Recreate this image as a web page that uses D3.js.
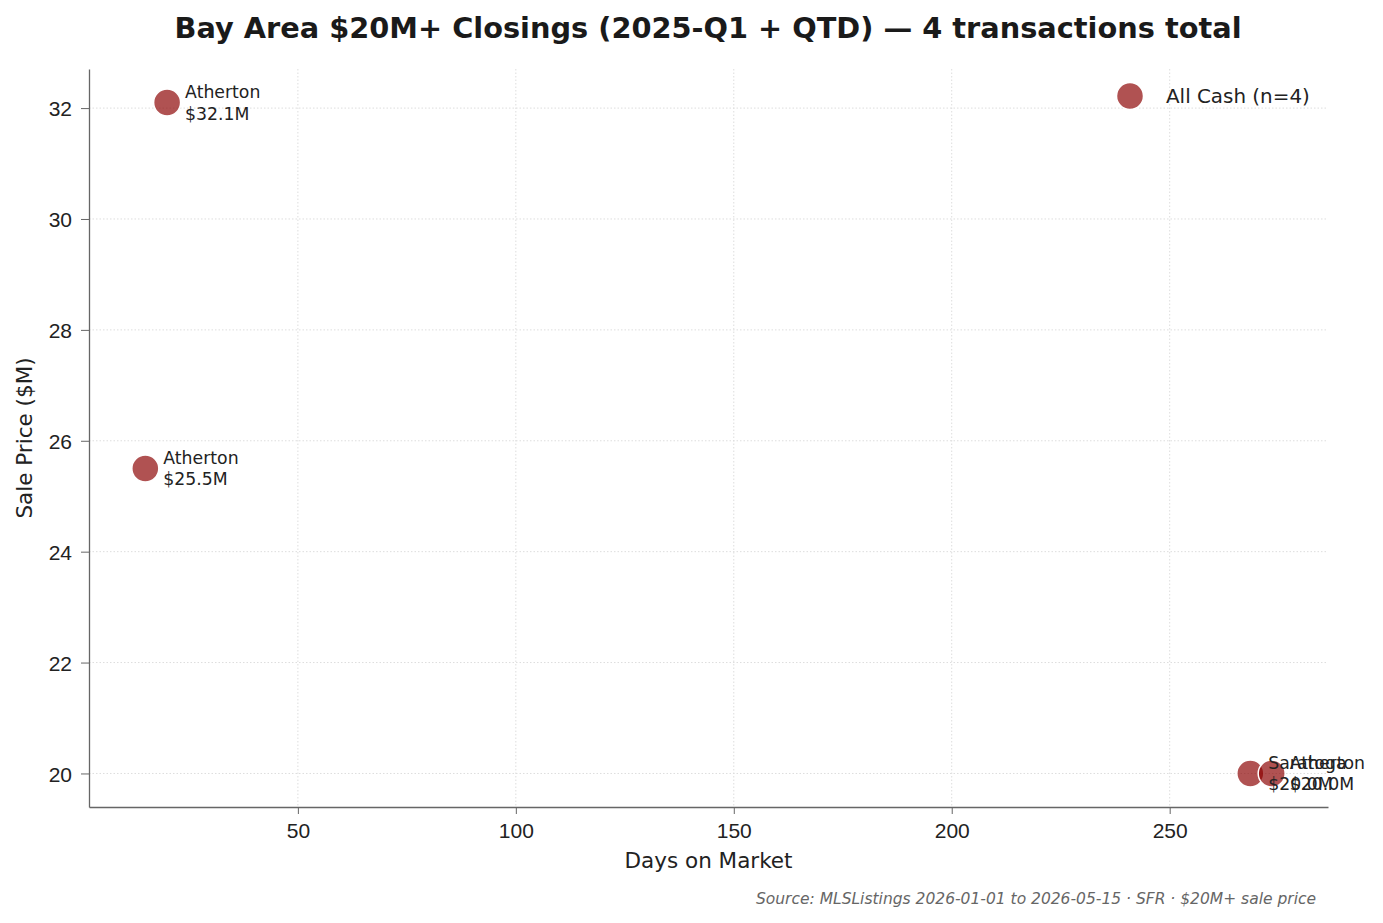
<!DOCTYPE html>
<html>
<head>
<meta charset="utf-8">
<script src="https://cdn.jsdelivr.net/npm/d3@7"></script>
<style>
  body { margin: 0; background: #fff; }
  svg { font-family: "DejaVu Sans", sans-serif; }
  .axis path, .axis line { stroke: #666; }
  .axis text { fill: #222; font-size: 21px; }
  .grid line { stroke: #ddd; stroke-dasharray: 1.5,2; }
</style>
</head>
<body>
<div id="chart"></div>
<script>
// closings data
const cities = ["Atherton", "Atherton", "Saratoga", "Atherton"];
const daysOnMarket = [20, 15, 268.5, 273.4];
const salePrice = [32.1, 25.5, 20.0, 20.0];
const xTicks = [50, 100, 150, 200, 250];
const yTicks = [20, 22, 24, 26, 28, 30, 32];
const legendLabel = "All Cash (n=4)";

const width = 1383, height = 923;
const margin = {top: 69, right: 55, bottom: 116, left: 89};
const plotW = width - margin.left - margin.right;
const plotH = height - margin.top - margin.bottom;

let svg = d3.select("#chart").append("svg")
    .attr("width", width)
    .attr("height", height);

// matplotlib style 5% padding
let xExt = d3.extent(daysOnMarket), yExt = d3.extent(salePrice);
let xPad = (xExt[1] - xExt[0]) * 0.05, yPad = (yExt[1] - yExt[0]) * 0.05;

let xScale = d3.scaleLinear().domain([xExt[0] - xPad, xExt[1] + xPad]).range([0, plotW]);
let yScale = d3.scaleLinear().domain([yExt[0] - yPad, yExt[1] + yPad]).range([plotH, 0]);

let g = svg.append("g").attr("transform", "translate(" + margin.left + "," + margin.top + ")");

// grid
g.append("g").attr("class", "grid")
    .selectAll("line").data(xTicks).join("line")
    .attr("x1", d => xScale(d)).attr("x2", d => xScale(d))
    .attr("y1", 0).attr("y2", plotH);
g.append("g").attr("class", "grid")
    .selectAll("line").data(yTicks).join("line")
    .attr("y1", d => yScale(d)).attr("y2", d => yScale(d))
    .attr("x1", 0).attr("x2", plotW);

// axes
let xAx = g.append("g").attr("class", "axis")
    .attr("transform", "translate(0," + plotH + ")")
    .call(d3.axisBottom(xScale).tickValues(xTicks).tickSize(7).tickPadding(9).tickSizeOuter(0));
let yAx = g.append("g").attr("class", "axis")
    .call(d3.axisLeft(yScale).tickValues(yTicks).tickSize(8).tickPadding(9).tickSizeOuter(0));
xAx.select(".domain").attr("stroke-width", 1.3);
yAx.select(".domain").attr("stroke-width", 1.3);
yAx.selectAll("text").attr("dy", "0.36em");

// points
g.selectAll(".pt").data(daysOnMarket).join("circle")
    .attr("class", "pt")
    .attr("cx", d => xScale(d))
    .attr("cy", (d, i) => yScale(salePrice[i]))
    .attr("r", 13.5)
    .attr("fill", "#8B0000")
    .attr("fill-opacity", 0.68)
    .attr("stroke", "#fff")
    .attr("stroke-width", 1.5);

// point labels
let lab = g.selectAll(".lab").data(daysOnMarket).join("text")
    .attr("class", "lab")
    .attr("font-size", 17.3)
    .attr("fill", "#222")
    .attr("x", d => xScale(d) + 18)
    .attr("y", (d, i) => yScale(salePrice[i]) - 4.5);
lab.append("tspan").text((d, i) => cities[i]);
lab.append("tspan").attr("x", d => xScale(d) + 18).attr("dy", 21.5)
    .text((d, i) => "$" + salePrice[i].toFixed(1) + "M");

// legend
let leg = g.append("g").attr("transform", "translate(" + (plotW - 198) + ",27)");
leg.append("circle").attr("r", 13.5)
    .attr("fill", "#8B0000").attr("fill-opacity", 0.68)
    .attr("stroke", "#fff").attr("stroke-width", 1.5);
leg.append("text").attr("x", 36).attr("dy", "0.35em")
    .attr("font-size", 19.9).attr("fill", "#222").text(legendLabel);

// title
svg.append("text")
    .attr("x", 708).attr("y", 38)
    .attr("text-anchor", "middle")
    .attr("font-size", 28.8).attr("font-weight", "bold").attr("fill", "#1a1a1a")
    .text("Bay Area $20M+ Closings (2025-Q1 + QTD) — 4 transactions total");

// axis labels
svg.append("text")
    .attr("x", margin.left + plotW / 2).attr("y", 868)
    .attr("text-anchor", "middle").attr("font-size", 21.5).attr("fill", "#222")
    .text("Days on Market");
svg.append("text")
    .attr("transform", "translate(32," + (margin.top + plotH / 2) + ") rotate(-90)")
    .attr("text-anchor", "middle").attr("font-size", 21.5).attr("fill", "#222")
    .text("Sale Price ($M)");

// source
svg.append("text")
    .attr("x", 1316).attr("y", 904)
    .attr("text-anchor", "end").attr("font-size", 15.5)
    .attr("font-style", "italic").attr("fill", "#666")
    .text("Source: MLSListings 2026-01-01 to 2026-05-15 · SFR · $20M+ sale price");
</script>
</body>
</html>
